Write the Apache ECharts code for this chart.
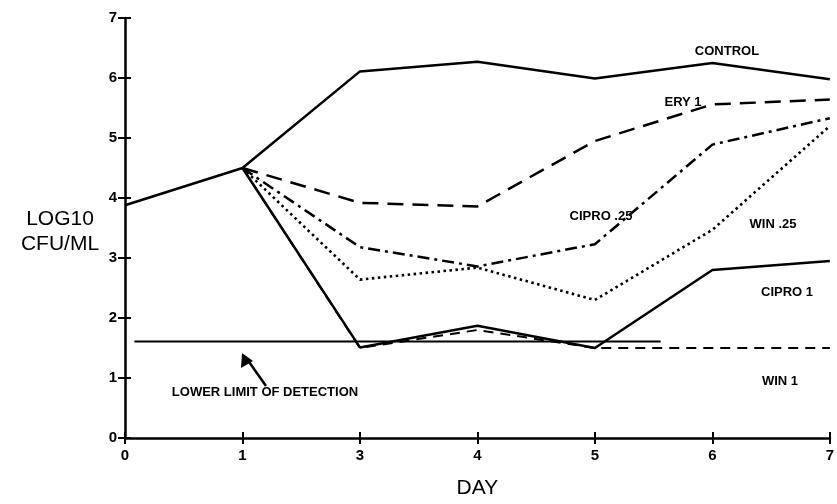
<!DOCTYPE html>
<html><head><meta charset="utf-8">
<script src="https://cdn.jsdelivr.net/npm/echarts@6/dist/echarts.min.js"></script>
<style>html,body{margin:0;padding:0;background:#fff}#c{width:837px;height:504px}</style>
</head><body><div id="c"></div>
<script>
const days = ['0','1','3','4','5','6','7'];
const yTicks = [0,1,2,3,4,5,6,7];
const control = [3.88, 4.5, 6.11, 6.27, 5.99, 6.25, 5.98];
const ery1 =    [null, 4.5, 3.92, 3.86, 4.95, 5.56, 5.64];
const cipro025 =[null, 4.5, 3.18, 2.86, 3.23, 4.89, 5.33];
const win025 =  [null, 4.5, 2.64, 2.84, 2.3, 3.47, 5.2];
const cipro1 =  [null, 4.5, 1.51, 1.87, 1.5, 2.8, 2.95];
const win1 =    [null, 4.5, 1.5, 1.8, 1.5, 1.5, 1.5];
const lowerLimit = 1.61;
const lowerLimitRange = [0.08, 4.56];
const seriesNames = ['CONTROL','ERY 1','CIPRO .25','WIN .25','CIPRO 1','WIN 1'];

const toPts = arr => arr.map((v,i)=> v==null?null:[i,v]).filter(p=>p);
const F = '"Liberation Sans", Arial, sans-serif';
const chart = echarts.init(document.getElementById('c'));
const styles = [
  {type:'solid', width:2.5},
  {type:[16,9], width:2.5},
  {type:[12,5,3,5], width:2.5},
  {type:[2.5,3.5], width:2.6},
  {type:'solid', width:2.5},
  {type:[10,7], width:2}
];
const dataSets = [control, ery1, cipro025, win025, cipro1, win1];
const series = dataSets.map((d,k)=>({
  name: seriesNames[k], type:'line', xAxisIndex:0, yAxisIndex:0,
  data: toPts(d), showSymbol:false, symbol:'none',
  lineStyle:Object.assign({color:'#000', cap:'butt'}, styles[k]),
  animation:false, z:3
}));
series.push({
  type:'line', data:[[lowerLimitRange[0],lowerLimit],[lowerLimitRange[1],lowerLimit]],
  showSymbol:false, symbol:'none', lineStyle:{color:'#000', width:2}, animation:false
});
chart.setOption({
  backgroundColor:'#fff',
  animation:false,
  grid:{left:125, right:2, top:18, bottom:53},
  xAxis:[{
    type:'value', min:0, max:6, interval:1,
    axisLine:{show:true, onZero:false, lineStyle:{color:'#000', width:2.5}},
    axisTick:{show:true, length:6, lineStyle:{color:'#000', width:2}},
    axisLabel:{formatter:v=>days[v], color:'#000', fontFamily:F, fontWeight:'bold', fontSize:15, margin:10},
    splitLine:{show:false},
    name:'DAY', nameLocation:'middle', nameGap:40,
    nameTextStyle:{color:'#000', fontFamily:F, fontSize:21}
  },{
    type:'value', min:0, max:6, interval:1, position:'bottom', gridIndex:0,
    axisLine:{show:false}, axisTick:{show:true, inside:true, length:6, lineStyle:{color:'#000', width:2}},
    axisLabel:{show:false}, splitLine:{show:false}
  }],
  yAxis:[{
    type:'value', min:0, max:7, interval:1,
    axisLine:{show:true, onZero:false, lineStyle:{color:'#000', width:2.5}},
    axisTick:{show:true, length:7, lineStyle:{color:'#000', width:2}},
    axisLabel:{formatter:v=>String(yTicks[v]), color:'#000', fontFamily:F, fontWeight:'bold', fontSize:15, margin:8},
    splitLine:{show:false}
  },{
    type:'value', min:0, max:7, interval:1, position:'left',
    axisLine:{show:false}, axisTick:{show:true, inside:true, length:6, lineStyle:{color:'#000', width:2}},
    axisLabel:{show:false}, splitLine:{show:false}
  }],
  series: series
});
const lbl = (text, x, y) => ({type:'text', x:x, y:y,
  style:{text:text, fill:'#000', font:'bold 13px '+F, textAlign:'center', textVerticalAlign:'middle'}});
chart.setOption({graphic:[
  lbl('CONTROL', 727, 51),
  lbl('ERY 1', 683, 102),
  lbl('CIPRO .25', 601, 216),
  lbl('WIN .25', 773, 224),
  lbl('CIPRO 1', 787, 292),
  lbl('WIN 1', 780, 381),
  lbl('LOWER LIMIT OF DETECTION', 265, 392),
  {type:'text', x:60, y:219, style:{text:'LOG10', fill:'#000', font:'21px '+F, textAlign:'center', textVerticalAlign:'middle'}},
  {type:'text', x:60, y:244, style:{text:'CFU/ML', fill:'#000', font:'21px '+F, textAlign:'center', textVerticalAlign:'middle'}},
  {type:'line', shape:{x1:266, y1:386, x2:247, y2:359}, style:{stroke:'#000', lineWidth:2.5}},
  {type:'polygon', shape:{points:[[242,353],[241,368],[253,361]]}, style:{fill:'#000'}}
]});
</script></body></html>
